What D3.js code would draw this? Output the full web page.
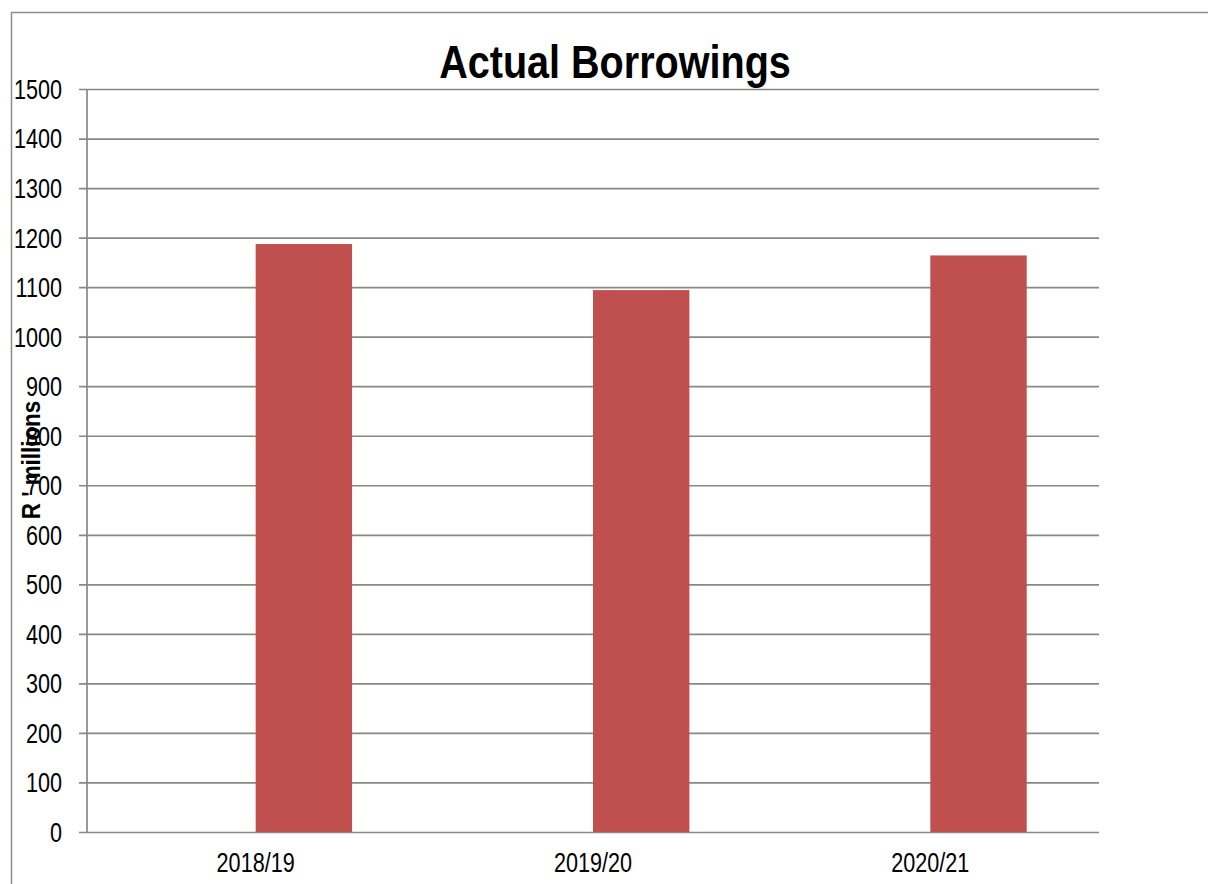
<!DOCTYPE html>
<html>
<head>
<meta charset="utf-8">
<script src="https://cdn.jsdelivr.net/npm/d3@7/dist/d3.min.js"></script>
<style>
  body { margin: 0; background: #fff; }
  svg text { font-family: "Liberation Sans", Arial, sans-serif; fill: #000; }
</style>
</head>
<body>
<div id="chart"></div>
<script>
var width = 1208, height = 884;

// data
var categories = ["2018/19", "2019/20", "2020/21"];
var borrowings = [1187, 1094, 1164];
var yTicks = d3.range(0, 1501, 100);

// plot area
var plotLeft = 87, plotRight = 1099, plotTop = 89, plotBottom = 832;

var svg = d3.select("#chart").append("svg")
  .attr("width", width)
  .attr("height", height);

// outer frame (runs off the page on the right and bottom)
svg.append("rect")
  .attr("x", 11.5).attr("y", 12.5)
  .attr("width", 1400).attr("height", 1000)
  .attr("fill", "none")
  .attr("stroke", "#8c8c8c")
  .attr("stroke-width", 1.5);

var x = d3.scaleBand().domain(categories).range([plotLeft, plotRight]).padding(0);
// excel style cluster: an empty slot sits left of each bar
var slot = d3.scaleBand().domain(["empty", "actual"])
  .range([0, x.bandwidth()]).paddingInner(0).paddingOuter(0.75);
var y = d3.scaleLinear().domain([0, 1500]).range([plotBottom, plotTop]);

// gridlines + ticks
var yAxis = d3.axisLeft(y).tickValues(yTicks).tickFormat(d3.format("d"))
  .tickSize(-(plotRight - plotLeft));
var gy = svg.append("g").attr("transform", "translate(" + plotLeft + ",0)").call(yAxis);
gy.select(".domain").remove();
gy.selectAll(".tick line")
  .attr("x1", -8)
  .attr("stroke", "#878787")
  .attr("stroke-width", 1.7);
gy.selectAll(".tick text")
  .attr("class", "narrow")
  .attr("font-size", 27)
  .attr("x", -25)
  .attr("dy", "0.35em")
  .attr("fill", "#000");
gy.attr("font-family", null).attr("font-size", null);

// y axis line
svg.append("line")
  .attr("x1", plotLeft).attr("x2", plotLeft)
  .attr("y1", plotTop).attr("y2", plotBottom)
  .attr("stroke", "#878787")
  .attr("stroke-width", 1.7);

// bars
svg.selectAll(".bar")
  .data(borrowings)
  .enter()
  .append("rect")
  .attr("class", "bar")
  .attr("x", function(d, i) { return x(categories[i]) + slot("actual"); })
  .attr("width", slot.bandwidth())
  .attr("y", function(d) { return y(d); })
  .attr("height", function(d) { return y(0) - y(d); })
  .attr("fill", "#C0504D");

// category labels
svg.selectAll(".xlab")
  .data(categories)
  .enter()
  .append("text")
  .attr("class", "xlab narrow")
  .attr("x", function(d) { return x(d) + x.bandwidth() / 2; })
  .attr("y", 872)
  .attr("text-anchor", "middle")
  .attr("font-size", 27)
  .text(function(d) { return d; });

// title
svg.append("text")
  .attr("class", "narrow-bold")
  .attr("x", 615)
  .attr("y", 78)
  .attr("text-anchor", "middle")
  .attr("font-size", 46)
  .attr("font-weight", "bold")
  .text("Actual Borrowings");

// y axis title
svg.append("text")
  .attr("class", "narrow-bold")
  .attr("transform", "translate(40,460) rotate(-90)")
  .attr("text-anchor", "middle")
  .attr("font-size", 26)
  .attr("font-weight", "bold")
  .text("R ' millions");

// the original uses a narrow face; squeeze the regular one to match
function squeeze(sel, k) {
  sel.each(function() {
    var w = this.getComputedTextLength();
    d3.select(this).attr("textLength", w * k).attr("lengthAdjust", "spacingAndGlyphs");
  });
}
squeeze(svg.selectAll("text.narrow"), 0.8);
squeeze(svg.selectAll("text.narrow-bold"), 0.86);
</script>
</body>
</html>
